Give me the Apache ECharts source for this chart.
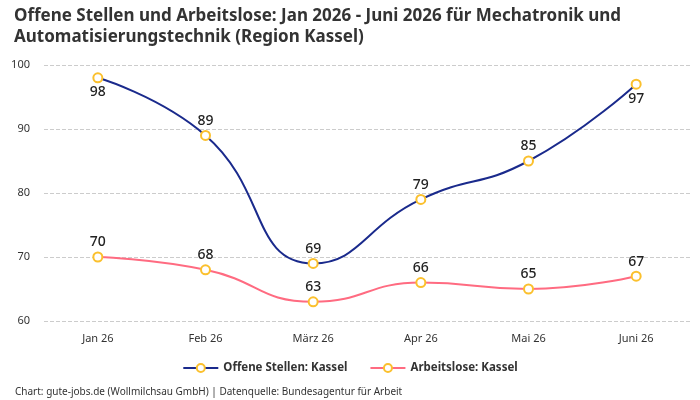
<!DOCTYPE html>
<html><head><meta charset="utf-8">
<script src="https://cdn.jsdelivr.net/npm/echarts@6/dist/echarts.min.js"></script>
<style>html,body{margin:0;padding:0;background:#fff}#c{width:700px;height:400px}</style>
</head><body><div id="c"></div>
<script>
const categories = ['Jan 26','Feb 26','März 26','Apr 26','Mai 26','Juni 26'];
const offeneStellen = [98, 89, 69, 79, 85, 97];
const arbeitslose = [70, 68, 63, 66, 65, 67];
const offenePos = ['bottom','top','top','top','top','bottom'];
const yTicks = [60, 70, 80, 90, 100];
const F = '"Noto Sans", sans-serif';
const chart = echarts.init(document.getElementById('c'));
const mk = (vals, pos) => vals.map((v,i)=>({value:v, label:{position:pos?pos[i]:'top'}}));
chart.setOption({
  animation:false,
  title:[{text:'Offene Stellen und Arbeitslose: Jan 2026 - Juni 2026 für Mechatronik und\nAutomatisierungstechnik (Region Kassel)',
    left:9, top:1, textStyle:{fontFamily:F, fontSize:17, fontWeight:'bold', color:'#333', lineHeight:21}},
    {text:'Chart: gute-jobs.de (Wollmilchsau GmbH) | Datenquelle: Bundesagentur für Arbeit', left:10, top:381,
    textStyle:{fontFamily:F, fontSize:10, fontWeight:'normal', color:'#333', lineHeight:12}}],
  legend:{bottom:21, left:'center', itemGap:22, itemWidth:35, itemHeight:10, textStyle:{fontFamily:F, fontSize:11.5, fontWeight:'bold', color:'#333'}},
  grid:{left:44, right:10, top:65, bottom:79},
  xAxis:{type:'category', data:categories, axisLine:{show:false}, axisTick:{show:false},
    axisLabel:{fontFamily:F, fontSize:11, color:'#333', margin:12}},
  yAxis:{type:'value', min:yTicks[0], max:yTicks[yTicks.length-1], interval:10,
    axisLabel:{fontFamily:F, fontSize:11, color:'#333', margin:14},
    splitLine:{lineStyle:{type:'dashed', color:'#ccc'}}},
  series:[
    {name:'Offene Stellen: Kassel', type:'line', smooth:true, data:mk(offeneStellen, offenePos),
     symbol:'circle', symbolSize:9, lineStyle:{color:'#1a2a8c', width:2},
     itemStyle:{color:'#fff', borderColor:'#fbc02d', borderWidth:2},
     label:{show:true, fontFamily:F, fontSize:14, fontWeight:500, color:'#222', distance:2}},
    {name:'Arbeitslose: Kassel', type:'line', smooth:true, data:mk(arbeitslose),
     symbol:'circle', symbolSize:9, lineStyle:{color:'#ff6b81', width:2},
     itemStyle:{color:'#fff', borderColor:'#fbc02d', borderWidth:2},
     label:{show:true, fontFamily:F, fontSize:14, fontWeight:500, color:'#222', distance:2}}
  ]
});
</script></body></html>
